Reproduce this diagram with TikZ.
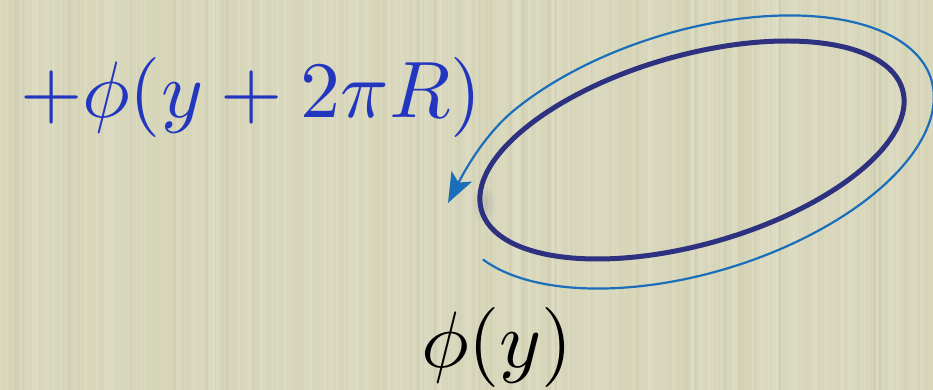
\documentclass[tikz,border=0pt]{standalone}
\usetikzlibrary{arrows.meta,calc}
\definecolor{bgbeige}{RGB}{215,214,185}
\definecolor{loopnavy}{RGB}{46,49,128}
\definecolor{arcblue}{RGB}{26,110,186}
\definecolor{labelblue}{RGB}{34,54,192}
\tikzset{
  looppath/.style={draw=loopnavy, line width=5pt},
  arcpath/.style={draw=arcblue, line width=2.2pt, line cap=round,
    -{Stealth[length=30pt,width=23pt,inset=7pt]}},
  bigmath/.style={inner sep=0pt, scale=8, anchor=base}
}
\begin{document}
\begin{tikzpicture}[x=1pt,y=1pt]
\useasboundingbox (0,0) rectangle (933,390);
\fill[bgbeige] (0,0) rectangle (933,390);
\pgfmathsetseed{11}
\foreach \i in {0,...,232}{
  \pgfmathsetmacro{\op}{0.16*rnd}
  \pgfmathsetmacro{\wd}{2+3*rnd}
  \fill[white, opacity=\op] (\i*4,0) rectangle ++(\wd,390);
}
\foreach \i in {0,...,120}{
  \pgfmathsetmacro{\op}{0.035*rnd}
  \pgfmathsetmacro{\xx}{933*rnd}
  \fill[black!60!olive, opacity=\op] (\xx,0) rectangle ++(3,390);
}
% faint glow at the left of the loop
\foreach \r/\o in {18/0.03,13/0.04,8/0.05}{
  \fill[loopnavy, opacity=\o] (484,186) ellipse (\r*0.6 and \r);
}
\begin{scope}
\clip (0,0) rectangle (933,390);
\draw[looppath, rotate around={16:(692,240)}] (692,240) ellipse [x radius=219, y radius=94.4];
\coordinate (c1) at (484,255);
\coordinate (c2) at (464,218);
\coordinate (tip) at (448,187);
\draw[arcpath, rotate around={17:(694,238)}]
  ($(694,238)+(200:248 and 121)$)
  arc[start angle=200, end angle=490, x radius=248, y radius=121]
  .. controls (c1) and (c2) .. (tip);
\end{scope}
\node[bigmath, text=labelblue] (toplabel) at (251,272) {$+\phi(y+2\pi R)$};
\node[bigmath, text=black] (bottomlabel) at (497,22) {$\phi(y)$};
\end{tikzpicture}
\end{document}
